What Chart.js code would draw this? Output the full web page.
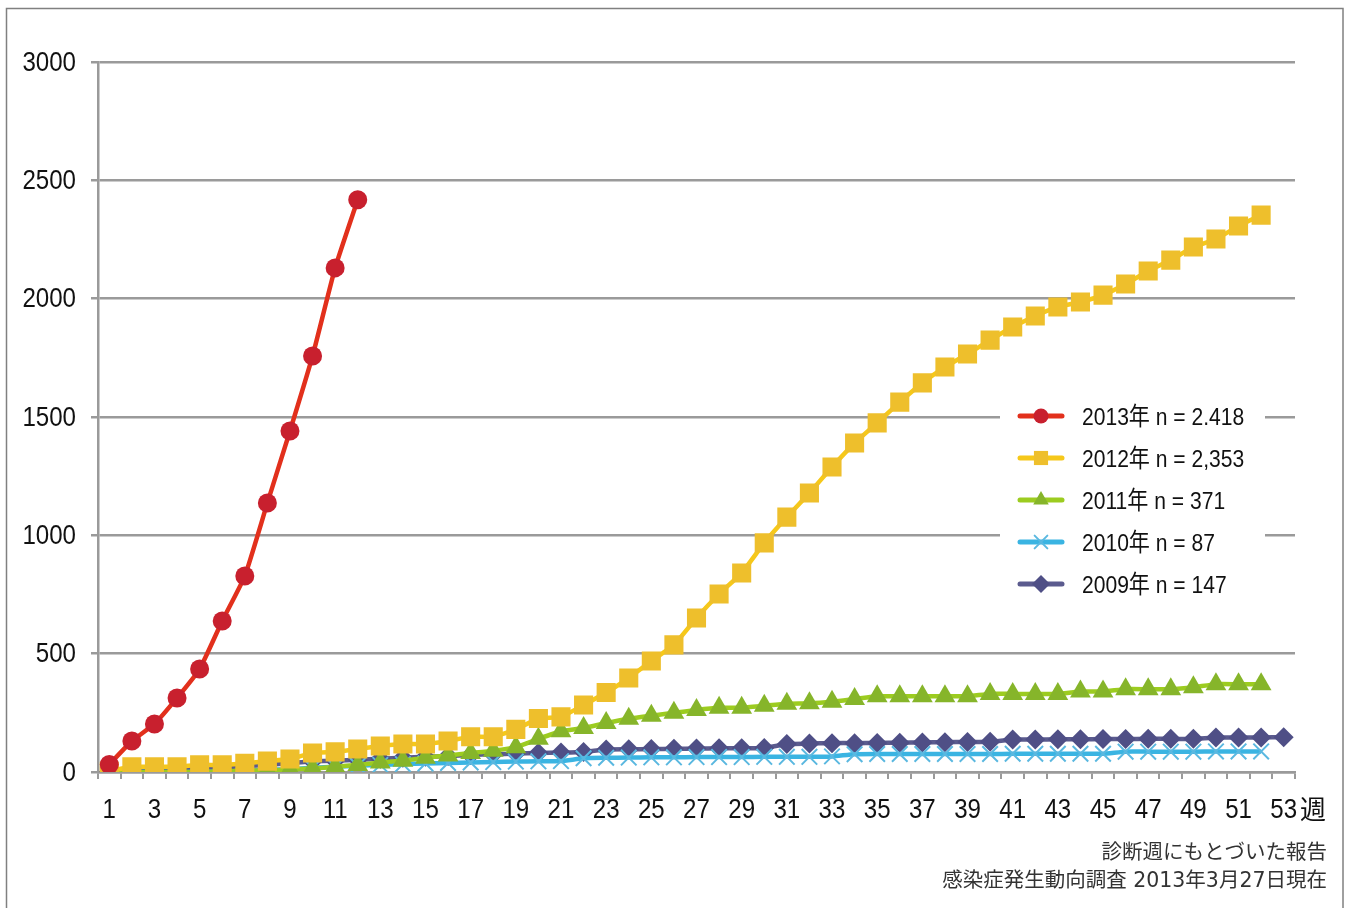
<!DOCTYPE html>
<html lang="ja">
<head>
<meta charset="utf-8">
<script src="https://cdn.jsdelivr.net/npm/chart.js@4.4.1/dist/chart.umd.min.js"></script>
<style>
  html, body { margin: 0; padding: 0; background: #fff; }
  canvas { display: block; }
</style>
</head>
<body>
<canvas id="chart" width="1347" height="908"></canvas>
<script>
// Weeks of diagnosis (1..53)
const weeks = ['1', '2', '3', '4', '5', '6', '7', '8', '9', '10',
    '11', '12', '13', '14', '15', '16', '17', '18', '19', '20',
    '21', '22', '23', '24', '25', '26', '27', '28', '29', '30',
    '31', '32', '33', '34', '35', '36', '37', '38', '39', '40',
    '41', '42', '43', '44', '45', '46', '47', '48', '49', '50',
    '51', '52', '53'];

const yTicks = [0, 500, 1000, 1500, 2000, 2500, 3000];

// cumulative reports per year
const cases2013 = [32, 131, 203, 313, 435, 638, 828, 1137, 1441, 1758, 2130, 2418];

const cases2012 = [3, 22, 22, 22, 30, 30, 37, 46, 55, 80,
    85, 97, 110, 118, 118, 131, 149, 149, 180, 226,
    233, 283, 336, 397, 469, 537, 651, 752, 841, 968,
    1077, 1179, 1289, 1390, 1475, 1563, 1644, 1711, 1766, 1825,
    1880, 1927, 1965, 1986, 2015, 2062, 2117, 2163, 2218, 2252,
    2307, 2353];

const cases2011 = [0, 0, 0, 0, 0, 3, 5, 8, 10, 15,
    22, 30, 40, 48, 60, 70, 80, 90, 105, 140,
    172, 186, 207, 225, 238, 250, 262, 271, 272, 280,
    288, 290, 297, 308, 320, 320, 320, 320, 320, 330,
    330, 330, 330, 340, 340, 350, 350, 350, 358, 371,
    371, 371];

const cases2010 = [0, 0, 0, 0, 0, 2, 5, 10, 12, 18,
    22, 26, 30, 33, 36, 38, 40, 42, 44, 45,
    46, 58, 60, 61, 62, 62, 63, 63, 63, 64,
    64, 64, 66, 75, 76, 76, 76, 76, 76, 76,
    77, 77, 77, 77, 77, 86, 86, 86, 86, 87,
    87, 87];

const cases2009 = [2, 5, 8, 12, 16, 20, 25, 30, 38, 45,
    48, 52, 56, 60, 64, 68, 72, 75, 78, 80,
    82, 85, 95, 96, 97, 98, 99, 100, 100, 101,
    118, 120, 122, 122, 123, 124, 125, 126, 127, 128,
    137, 137, 138, 138, 139, 139, 140, 140, 140, 146,
    146, 146, 147];

const seriesLabels = ['2013年 n = 2.418', '2012年 n = 2,353', '2011年 n = 371', '2010年 n = 87', '2009年 n = 147'];

const SANS = '"Liberation Sans", "Noto Sans CJK JP", sans-serif';
const CJK = '"Noto Sans CJK JP", sans-serif';
const NOTE = '"DejaVu Sans", "Noto Sans CJK JP", sans-serif';
const GRID = '#9a9a9a';
const SQUEEZE = 0.86; // the original uses a condensed face

/**
 * Writes text squeezed horizontally, anchored at (x, y).
 */
function narrowText (ctx, text, x, y, align) {
    ctx.save();
    ctx.translate(x, y);
    ctx.scale(SQUEEZE, 1);
    ctx.textAlign = align;
    ctx.fillText(text, 0, 0);
    ctx.restore();
}

/**
 * Draws one marker shape (used for the legend swatches).
 */
function drawMarker (ctx, style, x, y, r, color) {
    ctx.save();
    ctx.fillStyle = color;
    ctx.strokeStyle = color;
    ctx.beginPath();
    if (style === 'circle') {
        ctx.arc(x, y, r, 0, Math.PI * 2);
        ctx.fill();
    } else if (style === 'rect') {
        let s = r * Math.SQRT1_2;
        ctx.fillRect(x - s, y - s, s * 2, s * 2);
    } else if (style === 'triangle') {
        ctx.moveTo(x, y - r);
        ctx.lineTo(x + r * 0.866, y + r * 0.5);
        ctx.lineTo(x - r * 0.866, y + r * 0.5);
        ctx.closePath();
        ctx.fill();
    } else if (style === 'rectRot') {
        ctx.moveTo(x, y - r);
        ctx.lineTo(x + r, y);
        ctx.lineTo(x, y + r);
        ctx.lineTo(x - r, y);
        ctx.closePath();
        ctx.fill();
    } else if (style === 'crossRot') {
        let d = r * Math.SQRT1_2;
        ctx.lineWidth = 2;
        ctx.moveTo(x - d, y - d); ctx.lineTo(x + d, y + d);
        ctx.moveTo(x + d, y - d); ctx.lineTo(x - d, y + d);
        ctx.stroke();
    }
    ctx.restore();
}

const extras = {
    id: 'extras',
    afterDraw (chart) {
        const ctx = chart.ctx;
        const xs = chart.scales.x;
        const ys = chart.scales.y;

        ctx.save();
        ctx.fillStyle = '#111';
        ctx.textBaseline = 'middle';
        ctx.font = '28px ' + SANS;

        // axis labels, placed by the scales
        ys.ticks.forEach((t, i) => {
            narrowText(ctx, String(t.value), ys.right - 22, ys.getPixelForTick(i) + 1, 'right');
        });
        xs.ticks.forEach((t, i) => {
            if (i % 2 === 0) {
                narrowText(ctx, weeks[i], xs.getPixelForTick(i), xs.top + 38, 'center');
            }
        });

        // unit after the last week
        ctx.font = '26px ' + CJK;
        ctx.textAlign = 'left';
        ctx.fillText('週', xs.right + 5, xs.top + 37);

        // legend inside the plot
        ctx.fillStyle = '#fff';
        ctx.fillRect(1000, 396, 265, 208);
        chart.data.datasets.forEach((ds, i) => {
            let y = 416 + i * 42;
            ctx.strokeStyle = ds.borderColor;
            ctx.lineWidth = 5;
            ctx.lineCap = 'round';
            ctx.beginPath();
            ctx.moveTo(1020, y);
            ctx.lineTo(1062, y);
            ctx.stroke();
            drawMarker(ctx, ds.pointStyle, 1041, y, ds.legendRadius, ds.pointBackgroundColor);
            ctx.fillStyle = '#111';
            ctx.font = '24.5px ' + SANS;
            narrowText(ctx, ds.label, 1082, y + 2, 'left');
        });

        // notes
        ctx.font = '20.5px ' + NOTE;
        ctx.fillStyle = '#333';
        ctx.textAlign = 'right';
        ctx.fillText('診断週にもとづいた報告', 1327, 854);
        ctx.fillText('感染症発生動向調査 2013年3月27日現在', 1327, 882);

        // frame
        ctx.strokeStyle = '#808080';
        ctx.lineWidth = 1.5;
        ctx.strokeRect(6.5, 8.5, 1336.5, 910);
        ctx.restore();
    }
};

function lineSet (label, data, line, marker, style, radius, legendRadius) {
    return {
        label: label,
        data: data,
        borderColor: line,
        backgroundColor: marker,
        pointBackgroundColor: marker,
        pointBorderColor: marker,
        pointBorderWidth: style === 'crossRot' ? 2 : 0,
        pointStyle: style,
        pointRadius: radius,
        borderWidth: 4.5,
        tension: 0.15,
        legendRadius: legendRadius
    };
}

new Chart(document.getElementById('chart').getContext('2d'), {
    type: 'line',
    data: {
        labels: weeks,
        datasets: [
            lineSet(seriesLabels[0], cases2013, '#e2301c', '#c8202e', 'circle', 9.5, 7.5),
            lineSet(seriesLabels[1], cases2012, '#f6c81a', '#eebf2c', 'rect', 13.5, 10),
            lineSet(seriesLabels[2], cases2011, '#9ccc20', '#86b52a', 'triangle', 12, 9),
            lineSet(seriesLabels[3], cases2010, '#3ab4e2', '#5ab8e0', 'crossRot', 11, 9),
            lineSet(seriesLabels[4], cases2009, '#5b5b8e', '#4f4f86', 'rectRot', 10, 9)
        ]
    },
    options: {
        responsive: false,
        animation: false,
        devicePixelRatio: 1,
        layout: { padding: { top: 62, right: 52, left: 0, bottom: 0 } },
        plugins: {
            legend: { display: false },
            tooltip: { enabled: false }
        },
        scales: {
            x: {
                offset: true,
                afterFit: (s) => { s.height = 136; },
                grid: {
                    offset: true,
                    drawOnChartArea: false,
                    drawTicks: true,
                    tickLength: 7,
                    color: GRID,
                    lineWidth: 2
                },
                border: { color: GRID, width: 2.5 },
                ticks: { display: false, autoSkip: false, maxRotation: 0 }
            },
            y: {
                min: yTicks[0],
                max: yTicks[yTicks.length - 1],
                afterFit: (s) => { s.width = 98; },
                afterBuildTicks: (s) => { s.ticks = yTicks.map(v => ({ value: v })); },
                grid: {
                    color: GRID,
                    lineWidth: 2.5,
                    tickLength: 7,
                    drawTicks: true
                },
                border: { color: GRID, width: 2.5 },
                ticks: { display: false }
            }
        }
    },
    plugins: [extras]
});
</script>
</body>
</html>
